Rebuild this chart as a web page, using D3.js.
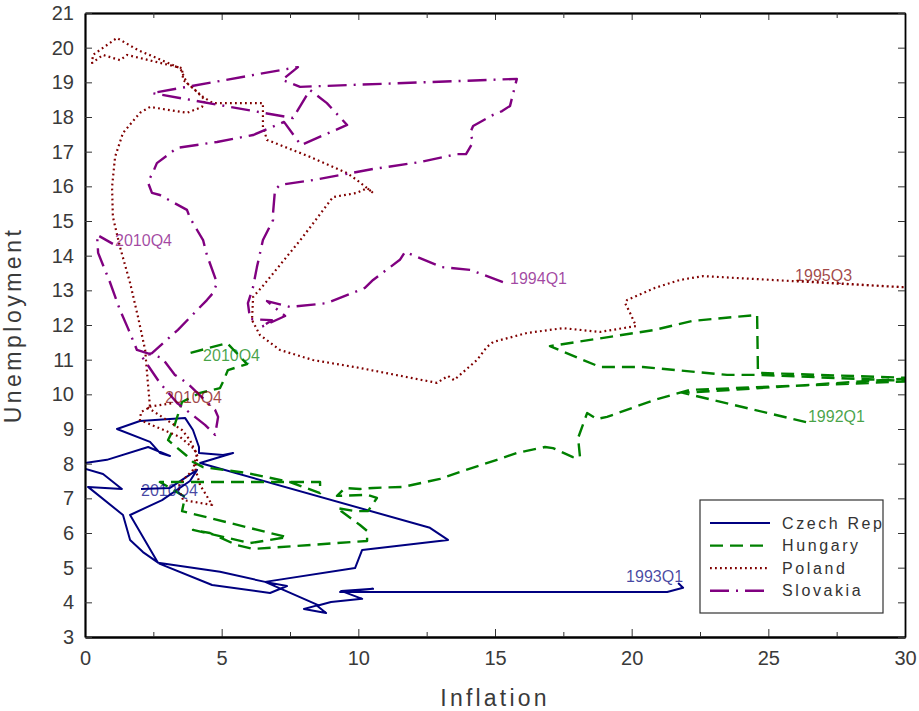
<!DOCTYPE html>
<html>
<head>
<meta charset="utf-8">
<script src="https://cdn.jsdelivr.net/npm/d3@7/dist/d3.min.js"></script>
<style>
body { margin: 0; background: #fff; }
</style>
</head>
<body>
<script>
// inflation (x) and unemployment (y) paths
var czechInfl  = [21.70,21.88,21.30,9.33,10.54,9.37,10.14,9.00,8.49,8.82,8.01,8.53,6.59,9.88,10.14,11.16,13.28,12.62,4.21,5.42,5.05,4.17,4.17,3.95,3.66,2.01,1.17,2.38,2.74,3.11,2.31,0.80,0.00,-0.11,0.66,1.35,0.11,1.39,1.65,2.12,2.74,4.65,6.77,7.39,6.59,4.94,2.67,1.65,2.82,3.84,4.10,3.11,2.05];
var czechUnemp = [4.56,4.42,4.30,4.30,4.39,4.33,4.10,4.01,3.90,3.69,3.81,3.92,4.59,4.99,5.51,5.60,5.80,6.15,8.02,8.31,8.25,8.31,8.48,8.97,9.32,9.23,9.00,8.63,8.31,8.22,8.48,8.11,8.02,7.88,7.70,7.27,7.33,6.52,5.80,5.45,5.11,4.50,4.27,4.47,4.59,4.88,5.14,6.52,6.95,7.50,7.82,7.30,7.27];

var hungaryInfl  = [26.38,21.88,30.37,24.62,24.59,22.24,20.85,17.01,18.84,20.41,23.49,24.62,30.37,22.13,20.85,19.10,18.73,18.37,18.04,18.11,17.85,17.12,16.83,15.80,15.07,13.72,12.99,11.63,10.54,10.06,9.51,9.22,10.35,10.68,10.35,9.88,9.22,10.06,10.32,10.32,6.15,5.56,4.57,3.95,6.04,7.39,3.55,3.66,2.74,8.60,8.60,7.50,5.93,4.32,3.95,3.73,3.04,3.22,3.55,4.21,4.94,5.05,5.23,5.93,5.20,3.84];
var hungaryUnemp = [9.20,10.04,10.47,10.62,12.29,12.12,11.86,11.39,10.79,10.79,10.56,10.56,10.38,10.13,9.84,9.35,9.29,9.46,8.74,8.19,8.19,8.45,8.48,8.31,8.11,7.76,7.56,7.33,7.30,7.27,7.30,7.07,7.10,7.01,6.63,6.63,6.72,6.23,6.06,5.77,5.54,5.65,6.00,6.09,5.71,5.88,6.63,7.04,7.47,7.47,7.15,7.47,7.73,7.90,8.05,8.22,8.68,8.97,9.78,10.04,10.18,10.36,10.70,10.87,11.48,11.19];

var polandInfl  = [26.05,30.37,22.61,21.77,20.85,19.83,19.76,19.94,20.16,18.84,17.49,16.17,14.93,14.71,14.34,13.50,13.28,12.88,10.06,8.34,7.13,6.40,6.11,6.15,6.48,7.94,9.07,9.95,10.32,10.54,9.95,9.59,8.23,6.66,6.51,6.51,4.68,4.32,3.73,3.48,1.94,1.17,0.29,0.26,0.66,1.28,1.54,3.55,3.59,4.02,4.39,4.28,3.73,2.38,2.01,1.39,1.10,0.99,1.02,1.28,1.65,1.94,2.20,2.30,2.38,2.05,2.01,3.48,3.91,4.10,3.95,3.59,3.40,3.59,4.65,4.50,4.21,4.02,4.13,3.84,3.55,2.27,3.22];
var polandUnemp = [13.27,13.07,13.41,13.30,13.07,12.72,12.63,12.35,11.97,11.80,11.91,11.77,11.51,11.37,10.99,10.41,10.53,10.33,10.76,10.99,11.28,11.71,12.14,12.81,13.10,14.51,15.69,15.81,15.95,15.81,16.18,16.38,16.85,17.34,17.71,18.40,18.40,18.58,18.98,19.41,19.93,20.28,19.79,19.56,19.79,19.64,19.79,19.41,19.07,18.78,18.49,18.29,18.12,18.29,18.12,17.54,16.85,15.98,15.12,14.25,13.21,12.23,11.28,10.33,9.63,9.49,9.26,8.77,8.48,8.31,7.82,7.53,7.33,6.95,6.81,7.01,7.38,7.90,8.19,8.68,8.97,9.63,9.75];

var slovakiaInfl  = [15.29,14.09,13.06,11.71,11.52,10.54,10.24,8.85,7.50,6.66,7.32,6.44,6.84,6.04,5.96,6.15,6.29,6.51,6.88,6.88,6.95,7.13,8.34,10.54,12.26,13.61,13.94,14.20,14.09,14.20,14.93,15.26,15.55,15.73,15.80,7.87,7.21,7.79,2.45,7.61,8.23,8.85,9.59,7.90,7.28,6.15,4.83,3.37,2.63,2.49,2.30,2.45,2.74,3.73,3.84,4.10,4.32,4.46,4.83,4.68,4.46,3.40,2.45,2.09,2.74,3.37,4.02,4.39,4.76,4.87,4.76,3.73,3.29,2.82,1.90,1.57,1.28,0.91,0.48,0.44,1.02];
var slovakiaUnemp = [13.24,13.59,13.67,14.11,13.88,13.30,13.07,12.63,12.52,12.69,12.26,11.94,12.14,12.17,12.63,13.10,13.67,14.45,15.03,15.23,15.89,16.04,16.18,16.50,16.70,16.93,16.93,17.28,17.54,17.74,18.06,18.17,18.32,18.89,19.10,18.87,19.07,19.44,18.69,17.97,18.78,18.40,17.77,17.19,17.86,17.48,17.28,17.11,16.67,16.41,16.12,15.81,15.75,15.32,15.09,14.74,14.45,14.02,13.21,12.92,12.72,11.86,11.19,11.08,10.33,9.75,9.35,9.12,8.83,9.35,9.55,10.33,10.56,11.05,11.28,11.91,12.43,13.24,14.08,14.60,14.34];

var seriesNames = ["Czech Rep", "Hungary", "Poland", "Slovakia"];

// start / end annotations (series, text, inflation, unemployment)
var labelSeries = ["Czech Rep", "Czech Rep", "Hungary", "Hungary", "Poland", "Poland", "Slovakia", "Slovakia"];
var labelText   = ["1993Q1", "2010Q4", "1992Q1", "2010Q4", "1995Q3", "2010Q4", "1994Q1", "2010Q4"];
var labelInfl   = [21.88, 2.05, 26.45, 4.32, 25.98, 2.93, 15.55, 1.10];
var labelUnemp  = [4.76, 7.24, 9.37, 11.13, 13.44, 9.92, 13.33, 14.45];

var xMajor = [0, 5, 10, 15, 20, 25, 30];
var xMinor = [2.5, 7.5, 12.5, 17.5, 22.5, 27.5];
var yTicks = d3.range(3, 22);

var tickFont = "'Liberation Sans Narrow', 'Liberation Sans', sans-serif";

function drawChart()
{
	var svg = d3.select("body")
		.append("svg")
		.attr("width", 919)
		.attr("height", 711);

	var margin = {top: 13, right: 14, bottom: 74, left: 85};
	var width = 919 - margin.left - margin.right;
	var height = 711 - margin.top - margin.bottom;
	var g = svg.append("g").attr("transform", "translate(" + margin.left + "," + margin.top + ")");

	var xScale = d3.scaleLinear().domain([0, 30]).range([0, width]);
	var yScale = d3.scaleLinear().domain([3, 21]).range([height, 0]);

	var style = {
		"Czech Rep": {color: "#000080", dash: null, w: 2},
		"Hungary":   {color: "#008000", dash: "13,7", w: 2.4},
		"Poland":    {color: "#800000", dash: "1.8,3.2", w: 2.2},
		"Slovakia":  {color: "#800080", dash: "19,7,2,7", w: 2.4}
	};

	var series = [
		d3.zip(czechInfl, czechUnemp),
		d3.zip(hungaryInfl, hungaryUnemp),
		d3.zip(polandInfl, polandUnemp),
		d3.zip(slovakiaInfl, slovakiaUnemp)
	];

	g.append("clipPath").attr("id", "plotClip")
		.append("rect").attr("width", width).attr("height", height);

	var line = d3.line()
		.x(function(d) { return xScale(d[0]); })
		.y(function(d) { return yScale(d[1]); });

	// the four paths
	g.append("g")
		.attr("clip-path", "url(#plotClip)")
		.selectAll("path")
		.data(series)
		.enter().append("path")
		.attr("d", line)
		.attr("fill", "none")
		.attr("stroke", function(d, i) { return style[seriesNames[i]].color; })
		.attr("stroke-width", function(d, i) { return style[seriesNames[i]].w; })
		.attr("stroke-dasharray", function(d, i) { return style[seriesNames[i]].dash; })
		.attr("stroke-linejoin", "round");

	// start / end labels
	g.append("g")
		.selectAll("text")
		.data(labelText)
		.enter().append("text")
		.attr("x", function(d, i) { return xScale(labelInfl[i]); })
		.attr("y", function(d, i) { return yScale(labelUnemp[i]); })
		.attr("dy", "0.35em")
		.attr("text-anchor", function(d, i) { return (i == 0) ? "end" : "start"; })
		.attr("font-family", "'Liberation Sans', Arial, sans-serif")
		.attr("font-size", 16)
		.attr("fill", function(d, i) { return style[labelSeries[i]].color; })
		.attr("fill-opacity", 0.72)
		.text(function(d) { return d; });

	// axes: ticks point inwards on all four sides
	g.append("g").attr("transform", "translate(0," + height + ")")
		.call(d3.axisBottom(xScale).tickValues(xMajor).tickSizeInner(-8).tickSizeOuter(0).tickPadding(14));
	g.append("g").attr("transform", "translate(0," + height + ")")
		.call(d3.axisBottom(xScale).tickValues(xMinor).tickSizeInner(-5).tickSizeOuter(0).tickFormat(""));
	var axisT = g.append("g")
		.call(d3.axisTop(xScale).tickValues(xMajor).tickSizeInner(-7).tickSizeOuter(0).tickFormat(""));
	g.append("g")
		.call(d3.axisTop(xScale).tickValues(xMinor).tickSizeInner(-5).tickSizeOuter(0).tickFormat(""));
	g.append("g")
		.call(d3.axisLeft(yScale).tickValues(yTicks).tickSizeInner(-7).tickSizeOuter(0).tickPadding(11));
	var axisR = g.append("g").attr("transform", "translate(" + width + ",0)")
		.call(d3.axisRight(yScale).tickValues(yTicks).tickSizeInner(-7).tickSizeOuter(0).tickFormat(""));

	g.selectAll(".domain").attr("stroke", "#000").attr("stroke-width", 2.2);
	axisT.select(".domain").attr("stroke-width", 1.5);
	axisR.select(".domain").attr("stroke-width", 1.8);
	g.selectAll(".tick line").attr("stroke", "#333").attr("stroke-width", 1);
	g.selectAll(".tick text")
		.attr("font-family", tickFont)
		.attr("font-size", 20)
		.attr("fill", "#3a3a3a");

	// axis titles
	svg.append("text")
		.attr("x", margin.left + width / 2)
		.attr("y", 706)
		.attr("text-anchor", "middle")
		.attr("font-family", tickFont)
		.attr("font-size", 23)
		.attr("letter-spacing", 3.2)
		.attr("fill", "#3a3a3a")
		.text("Inflation");

	svg.append("text")
		.attr("transform", "translate(21," + (margin.top + height / 2) + ") rotate(-90)")
		.attr("text-anchor", "middle")
		.attr("font-family", tickFont)
		.attr("font-size", 23)
		.attr("letter-spacing", 3.5)
		.attr("fill", "#3a3a3a")
		.text("Unemployment");

	// legend
	var legend = svg.append("g").attr("transform", "translate(700,500)");
	legend.append("rect")
		.attr("width", 183)
		.attr("height", 113)
		.attr("fill", "#fff")
		.attr("stroke", "#333")
		.attr("stroke-width", 1.2);

	var rows = legend.selectAll("g.row")
		.data(seriesNames)
		.enter().append("g")
		.attr("class", "row")
		.attr("transform", function(d, i) { return "translate(0," + (23 + i * 22.6) + ")"; });

	rows.append("line")
		.attr("x1", 10)
		.attr("x2", 70)
		.attr("stroke", function(d) { return style[d].color; })
		.attr("stroke-width", function(d) { return style[d].w; })
		.attr("stroke-dasharray", function(d) { return style[d].dash; });

	rows.append("text")
		.attr("x", 82)
		.attr("dy", "0.35em")
		.attr("font-family", tickFont)
		.attr("font-size", 16)
		.attr("letter-spacing", 2.6)
		.attr("fill", "#333")
		.text(function(d) { return d; });
}

drawChart();
</script>
</body>
</html>
